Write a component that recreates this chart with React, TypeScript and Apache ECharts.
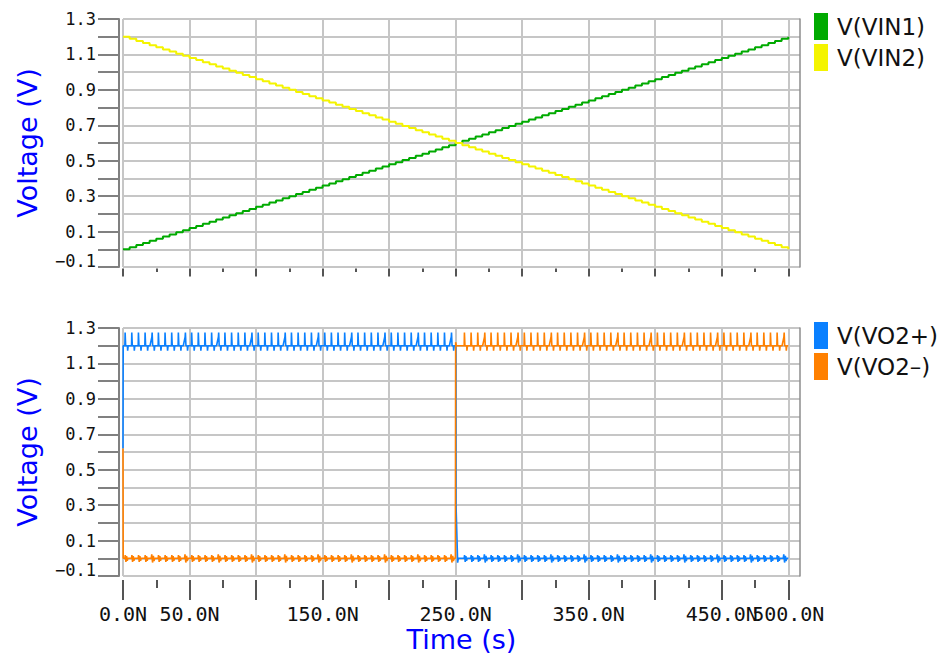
import React, { useEffect, useRef } from 'react';
import * as echarts from 'echarts';

// Sample instants of the input ramps (ns); one DAC step every 5 ns
const stepTimes = [
  0, 5, 10, 15, 20, 25, 30, 35, 40, 45, 50, 55, 60, 65, 70, 75, 80, 85, 90, 95,
  100, 105, 110, 115, 120, 125, 130, 135, 140, 145, 150, 155, 160, 165, 170, 175, 180, 185, 190, 195,
  200, 205, 210, 215, 220, 225, 230, 235, 240, 245, 250, 255, 260, 265, 270, 275, 280, 285, 290, 295,
  300, 305, 310, 315, 320, 325, 330, 335, 340, 345, 350, 355, 360, 365, 370, 375, 380, 385, 390, 395,
  400, 405, 410, 415, 420, 425, 430, 435, 440, 445, 450, 455, 460, 465, 470, 475, 480, 485, 490, 495,
  500,
];

// V(VIN1): rising staircase (V)
const vin1 = [
  0.000, 0.012, 0.024, 0.036, 0.048, 0.060, 0.072, 0.084, 0.096, 0.108,
  0.120, 0.132, 0.144, 0.156, 0.168, 0.180, 0.192, 0.204, 0.216, 0.228,
  0.240, 0.252, 0.264, 0.276, 0.288, 0.300, 0.312, 0.324, 0.336, 0.348,
  0.360, 0.372, 0.384, 0.396, 0.408, 0.420, 0.432, 0.444, 0.456, 0.468,
  0.480, 0.492, 0.504, 0.516, 0.528, 0.540, 0.552, 0.564, 0.576, 0.588,
  0.600, 0.612, 0.624, 0.636, 0.648, 0.660, 0.672, 0.684, 0.696, 0.708,
  0.720, 0.732, 0.744, 0.756, 0.768, 0.780, 0.792, 0.804, 0.816, 0.828,
  0.840, 0.852, 0.864, 0.876, 0.888, 0.900, 0.912, 0.924, 0.936, 0.948,
  0.960, 0.972, 0.984, 0.996, 1.008, 1.020, 1.032, 1.044, 1.056, 1.068,
  1.080, 1.092, 1.104, 1.116, 1.128, 1.140, 1.152, 1.164, 1.176, 1.188,
  1.200,
];

// V(VIN2): falling staircase (V)
const vin2 = [
  1.200, 1.188, 1.176, 1.164, 1.152, 1.140, 1.128, 1.116, 1.104, 1.092,
  1.080, 1.068, 1.056, 1.044, 1.032, 1.020, 1.008, 0.996, 0.984, 0.972,
  0.960, 0.948, 0.936, 0.924, 0.912, 0.900, 0.888, 0.876, 0.864, 0.852,
  0.840, 0.828, 0.816, 0.804, 0.792, 0.780, 0.768, 0.756, 0.744, 0.732,
  0.720, 0.708, 0.696, 0.684, 0.672, 0.660, 0.648, 0.636, 0.624, 0.612,
  0.600, 0.588, 0.576, 0.564, 0.552, 0.540, 0.528, 0.516, 0.504, 0.492,
  0.480, 0.468, 0.456, 0.444, 0.432, 0.420, 0.408, 0.396, 0.384, 0.372,
  0.360, 0.348, 0.336, 0.324, 0.312, 0.300, 0.288, 0.276, 0.264, 0.252,
  0.240, 0.228, 0.216, 0.204, 0.192, 0.180, 0.168, 0.156, 0.144, 0.132,
  0.120, 0.108, 0.096, 0.084, 0.072, 0.060, 0.048, 0.036, 0.024, 0.012,
  0.000,
];

// Comparator output rails (V) and the decision instant (ns)
const HIGH_RAIL = 1.2;
const LOW_RAIL = 0.0;
const DECISION_TIME = 250;
const START_LEVEL = 0.62;

// Kickback glitches seen after every clock edge: [ns after edge, V from rail]
const highGlitch = [[1.4, 0], [1.6, 0.075], [2.0, 0], [3.3, 0], [3.5, -0.028], [3.9, 0]];
const highGlitchWide = [[0.3, 0], [1.7, 0.05], [1.9, 0.075], [2.3, 0], [3.3, 0], [3.5, -0.028], [3.9, 0]];
const lowGlitch = [[1.4, 0], [1.7, 0.018], [2.2, -0.02], [2.7, 0.012], [3.2, -0.014], [3.6, 0]];
const lowGlitchWide = [[1.2, 0], [1.6, 0.022], [2.2, -0.024], [2.8, 0.014], [3.3, -0.016], [3.8, 0]];
// Edges that carry the wider, ramp-shaped glitch
const wideGlitchEdges = [20, 45, 70, 95, 120, 145, 170, 195, 220, 245, 270, 295, 320, 345, 370, 395, 420, 445, 470, 495];

// Axis ticks and labels
const yLabelValues = [-0.1, 0.1, 0.3, 0.5, 0.7, 0.9, 1.1, 1.3];
const xMajorTicks = [0, 50, 100, 150, 200, 250, 300, 350, 400, 450, 500];
const xMinorTicks = [25, 75, 125, 175, 225, 275, 325, 375, 425, 475];
const xLabelValues = [0, 50, 150, 250, 350, 450];
const xEndLabelValues = [500];

const Y_MIN = -0.1;
const Y_MAX = 1.3;
const X_MAX = 508.8;

const MONO = '"DejaVu Sans Mono", monospace';
const SANS = '"DejaVu Sans", sans-serif';

function rail(edges: number[], level: number, normal: number[][], wide: number[][]): number[][] {
  const pts: number[][] = [];
  for (const e of edges) {
    const shape = wideGlitchEdges.includes(e) ? wide : normal;
    for (const [dt, dv] of shape) pts.push([e + dt, level + dv]);
  }
  return pts;
}

const edgesBefore = stepTimes.filter((t) => t < DECISION_TIME);
const edgesAfter = stepTimes.filter((t) => t > DECISION_TIME && t < 500);

const vo2p: number[][] = [
  [0, START_LEVEL],
  [0.15, HIGH_RAIL],
  ...rail(edgesBefore, HIGH_RAIL, highGlitch, highGlitchWide),
  [DECISION_TIME + 0.2, HIGH_RAIL],
  [DECISION_TIME + 0.3, 0.3],
  [DECISION_TIME + 1.2, 0.06],
  [DECISION_TIME + 1.5, LOW_RAIL - 0.025],
  [DECISION_TIME + 2.0, LOW_RAIL],
  ...rail(edgesAfter, LOW_RAIL, lowGlitch, lowGlitchWide),
  [500, LOW_RAIL],
];

const vo2m: number[][] = [
  [0, START_LEVEL],
  [0.15, LOW_RAIL],
  ...rail(edgesBefore, LOW_RAIL, lowGlitch, lowGlitchWide),
  [DECISION_TIME - 0.2, LOW_RAIL],
  [DECISION_TIME, HIGH_RAIL + 0.02],
  [DECISION_TIME + 0.5, HIGH_RAIL],
  ...rail(edgesAfter, HIGH_RAIL, highGlitch, highGlitchWide),
  [500, HIGH_RAIL],
];

const vin1Data = stepTimes.map((t, i) => [t, vin1[i]]);
const vin2Data = stepTimes.map((t, i) => [t, vin2[i]]);

const GRID_LEFT = 123;
const GRID_WIDTH = 677;

const xLabelStyle = {
  hideOverlap: false,
  margin: 24,
  color: '#111',
  fontSize: 20,
  fontFamily: MONO,
  formatter: (v: number) => `${v.toFixed(1)}N`,
};

function yAxes(gridIndex: number) {
  return [
    {
      type: 'value',
      gridIndex,
      position: 'left',
      min: Y_MIN,
      max: Y_MAX,
      interval: 0.1,
      offset: 4,
      name: 'Voltage (V)',
      nameLocation: 'middle',
      nameRotate: 90,
      nameGap: 78,
      nameTextStyle: { color: '#0000ff', fontSize: 27, fontFamily: SANS },
      axisLine: { show: true, onZero: false, lineStyle: { color: '#808080', width: 2 } },
      axisTick: { show: true, length: 21, lineStyle: { color: '#808080', width: 2 } },
      axisLabel: {
        show: true,
        customValues: yLabelValues,
        margin: 23,
        color: '#111',
        fontSize: 17,
        fontFamily: MONO,
        formatter: (v: number) => {
          const s = v.toFixed(1).replace('-', '\u2212');
          return v < 0 ? `{low|${s}}` : s;
        },
        rich: {
          low: { color: '#111', fontSize: 17, fontFamily: MONO, padding: [0, 0, 13, 0] },
        },
      },
      splitLine: { show: true, lineStyle: { color: '#c6c6c6', width: 2 } },
    },
    {
      type: 'value',
      gridIndex,
      position: 'right',
      min: Y_MIN,
      max: Y_MAX,
      interval: 0.1,
      axisLine: { show: true, onZero: false, lineStyle: { color: '#8c8c8c', width: 1.5 } },
      axisTick: { show: false },
      axisLabel: { show: false },
      splitLine: { show: false },
    },
  ];
}

function xAxes(gridIndex: number, bottom: boolean) {
  const offset = bottom ? 4 : 1.5;
  return [
    {
      type: 'value',
      gridIndex,
      position: 'bottom',
      min: 0,
      max: X_MAX,
      interval: 50,
      offset,
      name: bottom ? 'Time (s)' : '',
      nameLocation: 'middle',
      nameGap: 46,
      nameTextStyle: { color: '#0000ff', fontSize: 27, fontFamily: SANS },
      axisLine: { show: false, onZero: false },
      axisTick: {
        show: true,
        customValues: xMajorTicks,
        length: bottom ? 20 : 8,
        lineStyle: { color: '#555', width: 2 },
      },
      axisLabel: { ...xLabelStyle, show: bottom, customValues: xLabelValues },
      splitLine: { show: true, lineStyle: { color: '#c6c6c6', width: 2 } },
    },
    {
      // minor ticks, plus the end-of-range label
      type: 'value',
      gridIndex,
      position: 'bottom',
      min: 0,
      max: X_MAX,
      interval: 50,
      offset,
      axisLine: { show: false, onZero: false },
      axisTick: {
        show: true,
        customValues: xMinorTicks,
        length: bottom ? 8 : 3.5,
        lineStyle: { color: '#555', width: 2 },
      },
      axisLabel: { ...xLabelStyle, show: bottom, customValues: xEndLabelValues },
      splitLine: { show: false },
    },
  ];
}

const legendBase = {
  orient: 'vertical',
  left: 809,
  icon: 'rect',
  itemWidth: 14,
  itemHeight: 27,
  itemGap: 4,
  selectedMode: false,
  textStyle: { color: '#111', fontSize: 23, fontFamily: SANS, padding: [0, 0, 0, 4] },
};

export default function App() {
  const ref = useRef<HTMLDivElement>(null);

  useEffect(() => {
    if (!ref.current) return;
    const chart = echarts.init(ref.current, undefined, { renderer: 'svg' });
    chart.setOption({
      animation: false,
      backgroundColor: '#ffffff',
      grid: [
        { left: GRID_LEFT, top: 19, width: GRID_WIDTH, height: 248 },
        { left: GRID_LEFT, top: 328, width: GRID_WIDTH, height: 248 },
      ],
      xAxis: [...xAxes(0, false), ...xAxes(1, true)],
      yAxis: [...yAxes(0), ...yAxes(1)],
      legend: [
        { ...legendBase, top: 8, data: ['V(VIN1)', 'V(VIN2)'] },
        { ...legendBase, top: 317, data: ['V(VO2+)', 'V(VO2\u2013)'] },
      ],
      series: [
        {
          name: 'V(VIN1)',
          type: 'line',
          xAxisIndex: 0,
          yAxisIndex: 0,
          step: 'end',
          data: vin1Data,
          showSymbol: false,
          color: '#00aa00',
          lineStyle: { width: 2, color: '#00aa00' },
        },
        {
          name: 'V(VIN2)',
          type: 'line',
          xAxisIndex: 0,
          yAxisIndex: 0,
          step: 'end',
          data: vin2Data,
          showSymbol: false,
          color: '#f4f400',
          lineStyle: { width: 2, color: '#f4f400' },
        },
        {
          name: 'V(VO2+)',
          type: 'line',
          xAxisIndex: 2,
          yAxisIndex: 2,
          data: vo2p,
          showSymbol: false,
          color: '#0a80ff',
          lineStyle: { width: 1.6, color: '#0a80ff' },
        },
        {
          name: 'V(VO2\u2013)',
          type: 'line',
          xAxisIndex: 2,
          yAxisIndex: 2,
          data: vo2m,
          showSymbol: false,
          color: '#ff8000',
          lineStyle: { width: 1.6, color: '#ff8000' },
        },
      ],
    });
    return () => chart.dispose();
  }, []);

  return (
    <div
      ref={ref}
      style={{ position: 'fixed', left: 0, top: 0, width: 944, height: 659, background: '#fff' }}
    />
  );
}
